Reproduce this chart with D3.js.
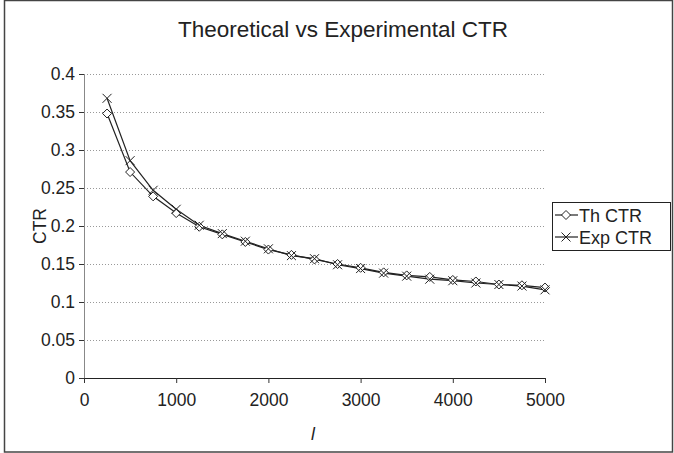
<!DOCTYPE html>
<html><head><meta charset="utf-8">
<script src="https://cdn.jsdelivr.net/npm/d3@7"></script>
<style>body{margin:0;background:#fff}svg{display:block;font-family:"Liberation Sans",Arial,sans-serif}</style>
</head><body><svg id="c" width="674" height="453"></svg>
<script>
const xs = [250,500,750,1000,1250,1500,1750,2000,2250,2500,2750,3000,3250,3500,3750,4000,4250,4500,4750,5000];
const thCTR = [0.348,0.271,0.239,0.217,0.199,0.189,0.179,0.169,0.162,0.156,0.150,0.145,0.139,0.135,0.133,0.129,0.127,0.123,0.122,0.119];
const expCTR = [0.368,0.286,0.247,0.222,0.201,0.190,0.180,0.170,0.161,0.157,0.149,0.144,0.138,0.134,0.130,0.128,0.125,0.123,0.121,0.116];
const yTicks = [0,0.05,0.1,0.15,0.2,0.25,0.3,0.35,0.4];
const xTicks = [0,1000,2000,3000,4000,5000];
const seriesNames = ["Th CTR","Exp CTR"];

const svg = d3.select("#c");
const L=84, R=545, T=74, B=378;
const x = d3.scaleLinear().domain([0,5000]).range([L,R]);
const y = d3.scaleLinear().domain([0,0.4]).range([B,T]);

svg.append("rect").attr("x",4.5).attr("y",0.5).attr("width",668).attr("height",451.5)
  .attr("fill","#fff").attr("stroke","#444").attr("stroke-width",1.5);

svg.append("text").attr("x",343).attr("y",37).attr("text-anchor","middle")
  .attr("font-size",22.5).attr("fill","#222").text("Theoretical vs Experimental CTR");

// grid
svg.append("g").selectAll("line").data(yTicks.filter(d=>d>0)).join("line")
  .attr("x1",L).attr("x2",R).attr("y1",d=>y(d)+0.5).attr("y2",d=>y(d)+0.5)
  .attr("stroke","#999").attr("stroke-dasharray","1,2");

// y axis
const ya = svg.append("g").attr("transform",`translate(${L},0)`)
  .call(d3.axisLeft(y).tickValues(yTicks).tickSize(5).tickPadding(4).tickFormat(d=>d3.format("")(+d.toFixed(2))));
ya.select(".domain").attr("stroke","#888");
ya.selectAll(".tick line").attr("stroke","#333");
ya.selectAll("text").attr("font-size",17.5).attr("fill","#222").attr("font-family","Liberation Sans, Arial, sans-serif");

// x axis
const xa = svg.append("g").attr("transform",`translate(0,${B})`)
  .call(d3.axisBottom(x).tickValues(xTicks).tickSize(5).tickFormat(d3.format("d")));
xa.select(".domain").attr("stroke","#222");
xa.selectAll(".tick line").attr("stroke","#333");
xa.selectAll("text").attr("font-size",17.5).attr("fill","#222").attr("dy","1.15em").attr("font-family","Liberation Sans, Arial, sans-serif");

svg.append("text").attr("transform","translate(46,226) rotate(-90)").attr("text-anchor","middle")
  .attr("font-size",17.5).attr("fill","#222").text("CTR");
svg.append("text").attr("x",313).attr("y",440).attr("text-anchor","middle").attr("font-style","italic")
  .attr("font-size",17.5).attr("fill","#222").text("l");

const line = d3.line().x((d,i)=>x(xs[i])).y(d=>y(d));
const diamond = (cx,cy,s)=>`M${cx},${cy-s}L${cx+s},${cy}L${cx},${cy+s}L${cx-s},${cy}Z`;
const cross = (cx,cy,s)=>`M${cx-s},${cy-s}L${cx+s},${cy+s}M${cx+s},${cy-s}L${cx-s},${cy+s}`;

svg.append("path").datum(thCTR).attr("d",line).attr("fill","none").attr("stroke","#222").attr("stroke-width",1.2);
svg.append("path").datum(expCTR).attr("d",line).attr("fill","none").attr("stroke","#222").attr("stroke-width",1.2);
svg.append("g").selectAll("path").data(thCTR).join("path")
  .attr("d",(d,i)=>diamond(x(xs[i]),y(d),4.5)).attr("fill","#fff").attr("stroke","#222").attr("stroke-width",1);
svg.append("g").selectAll("path").data(expCTR).join("path")
  .attr("d",(d,i)=>cross(x(xs[i]),y(d),4.5)).attr("fill","none").attr("stroke","#222").attr("stroke-width",1);

// legend
const lg = svg.append("g");
lg.append("rect").attr("x",552.5).attr("y",202.5).attr("width",118).attr("height",48)
  .attr("fill","#fff").attr("stroke","#222").attr("stroke-width",1);
seriesNames.forEach((n,i)=>{
  const cy = 215 + i*22;
  lg.append("line").attr("x1",555).attr("x2",578).attr("y1",cy).attr("y2",cy).attr("stroke","#222").attr("stroke-width",1.2);
  lg.append("path").attr("d", i===0 ? diamond(566,cy,4.5) : cross(566,cy,4.5))
    .attr("fill", i===0 ? "#fff" : "none").attr("stroke","#222");
  lg.append("text").attr("x",579).attr("y",cy+6.5).attr("font-size",18).attr("fill","#222").text(n);
});
</script></body></html>
